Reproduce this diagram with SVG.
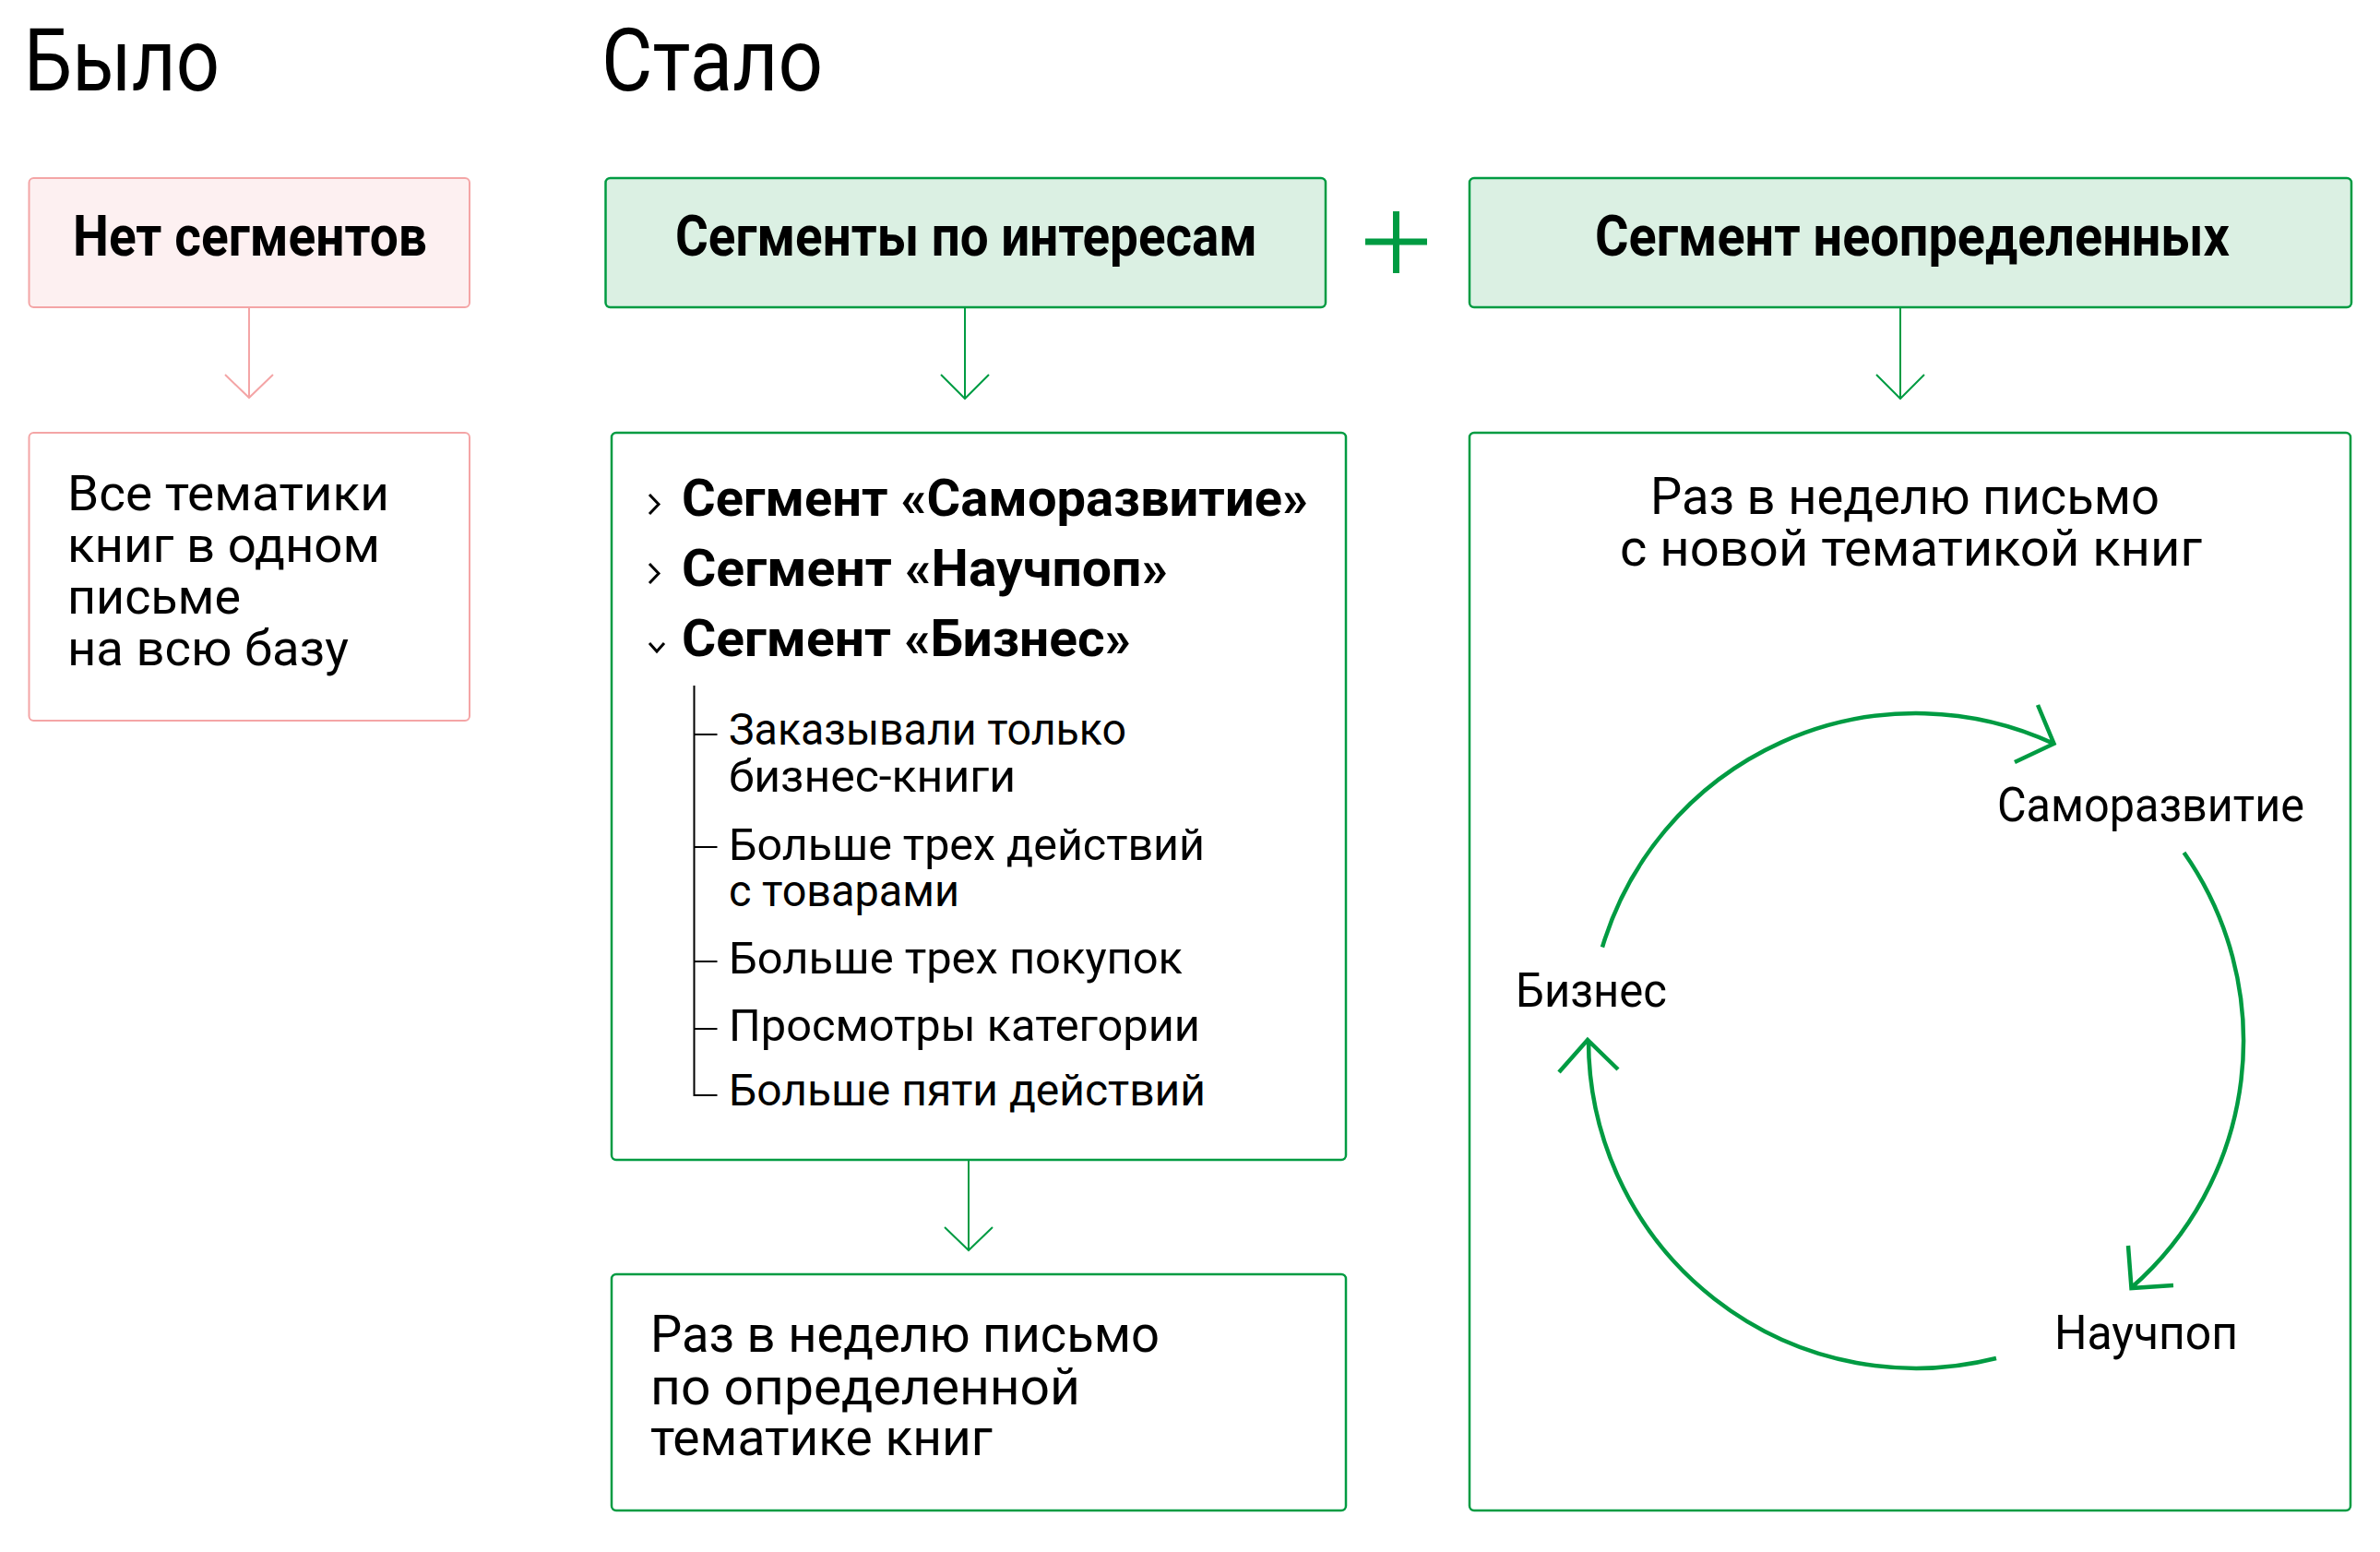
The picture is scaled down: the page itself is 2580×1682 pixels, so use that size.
<svg xmlns="http://www.w3.org/2000/svg" width="2580" height="1682" viewBox="0 0 2580 1682">
<defs>
<style>
text{font-family:Roboto,"Noto Sans","DejaVu Sans",sans-serif;fill:#000}
.t{font-size:94px}
.h{font-size:62px;font-weight:700}
.s{font-size:56px;font-weight:700}
.b{font-size:53px}
.i{font-size:48px}
.p{font-size:56px}
.c{font-size:52px}
.pf{fill:#fdf0f1;stroke:#f4a5a6;stroke-width:2}
.pw{fill:#fff;stroke:#f4a5a6;stroke-width:2}
.gf{fill:#dbf0e3;stroke:#009b42;stroke-width:2.5}
.gw{fill:#fff;stroke:#009b42;stroke-width:2.5}
.cp{fill:none;stroke:#f4a5a6;stroke-width:2}
.cg{fill:none;stroke:#009b42;stroke-width:2}
.cy{fill:none;stroke:#009b42;stroke-width:4.5}
.tree{fill:none;stroke:#000;stroke-width:2}
.chev{fill:none;stroke:#000;stroke-width:3}
</style>
</defs>
<rect width="2580" height="1682" fill="#fff"/>

<g id="titles">
<text class="t" x="26" y="98" textLength="212" lengthAdjust="spacingAndGlyphs">Было</text>
<text class="t" x="652" y="98" textLength="240" lengthAdjust="spacingAndGlyphs">Стало</text>
</g>

<g id="connectors">
<path class="cp" d="M270 333V431M244 406L270 431L296 406"/>
<path class="cg" d="M1046 333V432M1020 406L1046 432L1072 406"/>
<path class="cg" d="M2060 333V432M2034 406L2060 432L2086 406"/>
<path class="cg" d="M1050 1257V1355M1024 1330L1050 1355L1076 1330"/>
</g>

<g id="plus">
<path d="M1480 262H1547M1513.5 229V296" stroke="#009b42" stroke-width="7" fill="none"/>
</g>

<g id="node-no-segments">
<rect class="pf" x="31.5" y="193" width="477.5" height="140" rx="5"/>
<text class="h" x="79" y="277" textLength="384" lengthAdjust="spacingAndGlyphs">Нет сегментов</text>
</g>

<g id="node-all-topics">
<rect class="pw" x="31.5" y="469" width="477.5" height="312" rx="5"/>
<text class="b" x="73" y="553" textLength="349" lengthAdjust="spacingAndGlyphs">Все тематики</text>
<text class="b" x="73" y="609" textLength="339" lengthAdjust="spacingAndGlyphs">книг в одном</text>
<text class="b" x="73" y="665" textLength="188" lengthAdjust="spacingAndGlyphs">письме</text>
<text class="b" x="73" y="721" textLength="305" lengthAdjust="spacingAndGlyphs">на всю базу</text>
</g>

<g id="node-interest-segments">
<rect class="gf" x="656.5" y="193" width="780.5" height="140" rx="5"/>
<text class="h" x="732" y="277" textLength="631" lengthAdjust="spacingAndGlyphs">Сегменты по интересам</text>
</g>

<g id="node-undefined-segment">
<rect class="gf" x="1593" y="193" width="956" height="140" rx="5"/>
<text class="h" x="1729" y="277" textLength="688" lengthAdjust="spacingAndGlyphs">Сегмент неопределенных</text>
</g>

<g id="node-segment-list">
<rect class="gw" x="663" y="469" width="796" height="788" rx="5"/>
<path class="chev" d="M704 536L714 546.5L704 557"/>
<path class="chev" d="M704 611L714 621.5L704 632"/>
<path class="chev" d="M704 697L712 706L720 697"/>
<text class="s" x="739" y="559" textLength="679" lengthAdjust="spacingAndGlyphs">Сегмент «Саморазвитие»</text>
<text class="s" x="739" y="635" textLength="527" lengthAdjust="spacingAndGlyphs">Сегмент «Научпоп»</text>
<text class="s" x="739" y="711" textLength="487" lengthAdjust="spacingAndGlyphs">Сегмент «Бизнес»</text>
<path class="tree" d="M752.5 743V1187H777.5M752.5 796H777.5M752.5 918H777.5M752.5 1042H777.5M752.5 1115H777.5"/>
<text class="i" x="790" y="807" textLength="431" lengthAdjust="spacingAndGlyphs">Заказывали только</text>
<text class="i" x="790" y="858" textLength="311" lengthAdjust="spacingAndGlyphs">бизнес-книги</text>
<text class="i" x="790" y="932" textLength="516" lengthAdjust="spacingAndGlyphs">Больше трех действий</text>
<text class="i" x="790" y="982" textLength="250" lengthAdjust="spacingAndGlyphs">с товарами</text>
<text class="i" x="790" y="1055" textLength="492" lengthAdjust="spacingAndGlyphs">Больше трех покупок</text>
<text class="i" x="790" y="1128" textLength="511" lengthAdjust="spacingAndGlyphs">Просмотры категории</text>
<text class="i" x="790" y="1198" textLength="517" lengthAdjust="spacingAndGlyphs">Больше пяти действий</text>
</g>

<g id="node-weekly-topic">
<rect class="gw" x="663" y="1381" width="796" height="256" rx="5"/>
<text class="p" x="705" y="1465" textLength="552" lengthAdjust="spacingAndGlyphs">Раз в неделю письмо</text>
<text class="p" x="705" y="1522" textLength="466" lengthAdjust="spacingAndGlyphs">по определенной</text>
<text class="p" x="705" y="1577" textLength="371" lengthAdjust="spacingAndGlyphs">тематике книг</text>
</g>

<g id="node-weekly-new-topic">
<rect class="gw" x="1593" y="469" width="955" height="1168" rx="5"/>
<text class="p" x="1789" y="557" textLength="552" lengthAdjust="spacingAndGlyphs">Раз в неделю письмо</text>
<text class="p" x="1756" y="613" textLength="631" lengthAdjust="spacingAndGlyphs">с новой тематикой книг</text>
</g>

<g id="cycle">
<path class="cy" d="M1737 1026.5A355 355 0 0 1 2226.5 806M2209 764L2226.5 806L2184 826"/>
<path class="cy" d="M2367.5 924A355 355 0 0 1 2310.5 1395.5M2307 1350L2310.5 1396L2356 1393"/>
<path class="cy" d="M2164 1472A355 355 0 0 1 1722 1127M1690 1162L1721 1127L1754 1159"/>
<text class="c" x="2165" y="890" textLength="333" lengthAdjust="spacingAndGlyphs">Саморазвитие</text>
<text class="c" x="1643" y="1091" textLength="164" lengthAdjust="spacingAndGlyphs">Бизнес</text>
<text class="c" x="2227" y="1462" textLength="199" lengthAdjust="spacingAndGlyphs">Научпоп</text>
</g>
</svg>
